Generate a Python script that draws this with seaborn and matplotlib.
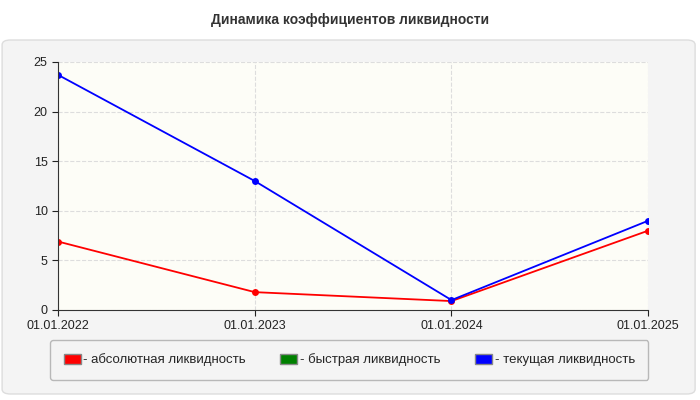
import matplotlib
matplotlib.use("Agg")
import matplotlib.pyplot as plt
import pandas as pd
import seaborn as sns
from matplotlib.patches import FancyBboxPatch, Patch

dates = ["01.01.2022", "01.01.2023", "01.01.2024", "01.01.2025"]
absolute = [6.9, 1.8, 0.9, 8.0]
current = [23.7, 13.0, 1.0, 9.0]
labels = ["- абсолютная ликвидность", "- быстрая ликвидность", "- текущая ликвидность"]
colors = ["#ff0000", "#008000", "#0000ff"]

sns.set_style("white")
plt.rcParams["font.family"] = ["Liberation Sans", "DejaVu Sans"]

df = pd.DataFrame({"x": list(range(4)) * 2,
                   "y": absolute + current,
                   "s": ["abs"] * 4 + ["cur"] * 4})

fig = plt.figure(figsize=(7, 4), dpi=100)
panel = FancyBboxPatch((0.003, 0.015), 0.99, 0.885, boxstyle="round,pad=0,rounding_size=0.012",
                       transform=fig.transFigure, facecolor="#f4f4f4", edgecolor="#dddddd", lw=1, zorder=-10)
fig.patches.append(panel)
fig.text(0.5, 0.95, "Динамика коэффициентов ликвидности", ha="center", va="center",
         fontsize=10, fontweight="bold", color="#333333")

ax = fig.add_axes([0.083, 0.225, 0.843, 0.62])
ax.set_zorder(5)
ax.set_facecolor("#fdfdf7")
sns.lineplot(data=df, x="x", y="y", hue="s", palette=["#ff0000", "#0000ff"], marker="o",
             markersize=5, markeredgewidth=0, linewidth=1.3, legend=False, ax=ax)
ax.set_xlim(0, 3)
ax.set_ylim(0, 25)
ax.set_xticks(range(4))
ax.set_xticklabels(dates)
ax.set_yticks([0, 5, 10, 15, 20, 25])
ax.set_xlabel("")
ax.set_ylabel("")
ax.grid(True, color="#dddddd", linestyle="--", linewidth=0.8)
ax.tick_params(labelsize=9, colors="#222222", length=4, bottom=True, left=True)
for side in ["top", "right"]:
    ax.spines[side].set_visible(False)
for side in ["left", "bottom"]:
    ax.spines[side].set_color("#333333")

handles = [Patch(facecolor=c, edgecolor="#888888") for c in colors]
leg = fig.legend(handles, labels, loc="center", bbox_to_anchor=(0.499, 0.1), ncol=3,
                 fontsize=9.5, frameon=True, handlelength=1.3, handleheight=0.8,
                 handletextpad=0.2, columnspacing=2.6, borderpad=1.0)
leg.set_zorder(6)
leg.get_frame().set_edgecolor("#aaaaaa")
leg.get_frame().set_facecolor("#f4f4f4")

fig.savefig("out.png", dpi=100)
